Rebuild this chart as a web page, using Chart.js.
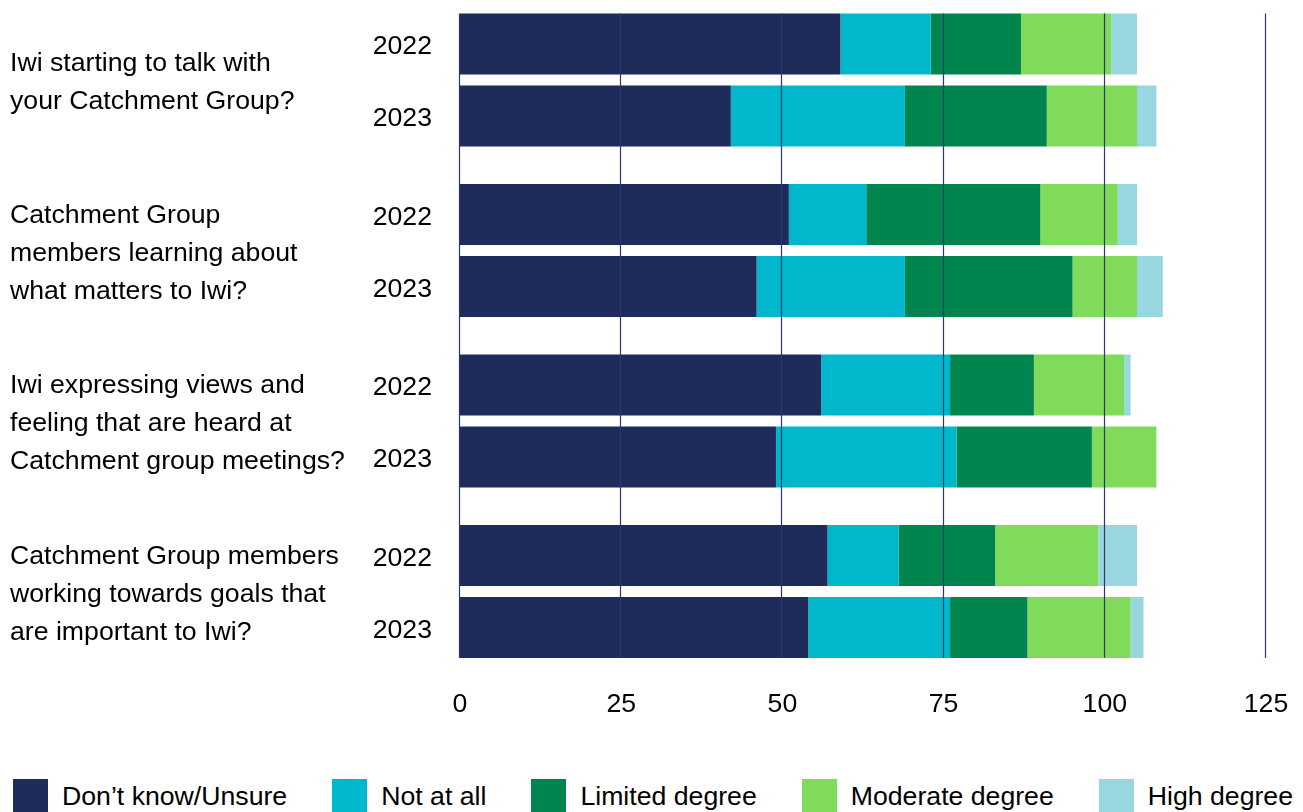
<!DOCTYPE html>
<html>
<head>
<meta charset="utf-8">
<title>Iwi engagement with Catchment Groups</title>
<script src="https://cdn.jsdelivr.net/npm/chart.js@4.4.1/dist/chart.umd.min.js"></script>
<style>
    html, body {
        margin: 0;
        padding: 0;
        background: #ffffff;
        overflow: hidden;
    }
    .chart-wrap {
        position: relative;
        width: 1303px;
        height: 812px;
        overflow: hidden;
    }
    #engagementChart {
        position: absolute;
        left: 0;
        top: -20px;
    }
    .legend {
        position: absolute;
        left: 13px;
        top: 779px;
        display: flex;
        align-items: center;
        gap: 45px;
        font-family: "Liberation Sans", Arial, sans-serif;
        font-size: 26.67px;
        color: #000000;
        white-space: nowrap;
    }
    .legend-item {
        display: flex;
        align-items: center;
    }
    .legend-box {
        width: 35px;
        height: 35px;
        margin-right: 14px;
    }
</style>
</head>
<body>
<div class="chart-wrap">
    <canvas id="engagementChart" width="1303" height="780"></canvas>
    <div class="legend" id="chartLegend"></div>
</div>

<script>
// Survey questions (y axis), one group per question
const questions = [
    ['Iwi starting to talk with', 'your Catchment Group?'],
    ['Catchment Group', 'members learning about', 'what matters to Iwi?'],
    ['Iwi expressing views and', 'feeling that are heard at', 'Catchment group meetings?'],
    ['Catchment Group members', 'working towards goals that', 'are important to Iwi?']
];

const years = ['2022', '2023'];

const responseLevels = ['Don\u2019t know/Unsure', 'Not at all', 'Limited degree', 'Moderate degree', 'High degree'];
const levelColors = ['#1f2b5b', '#00b7cb', '#00854f', '#80db5a', '#98d6e0'];

// Responses per question, 2022
const dontKnow2022 = [59, 51, 56, 57];
const notAtAll2022 = [14, 12, 20, 11];
const limited2022 = [14, 27, 13, 15];
const moderate2022 = [14, 12, 14, 16];
const high2022 = [4, 3, 1, 6];

// Responses per question, 2023
const dontKnow2023 = [42, 46, 49, 54];
const notAtAll2023 = [27, 23, 28, 22];
const limited2023 = [22, 26, 21, 12];
const moderate2023 = [14, 10, 10, 16];
const high2023 = [3, 4, 0, 2];

const xTicks = [0, 25, 50, 75, 100, 125];

const FONT = '"Liberation Sans", Arial, sans-serif';
const FONT_SIZE = 26.67;
const GRID_COLOR = '#2c3868';

document.addEventListener('DOMContentLoaded', function() {
    const chart = createEngagementChart();
    buildLegend(chart);
});

/**
 * Vertical grid lines over the bars, only as tall as the bar block
 */
const barGridPlugin = {
    id: 'barGrid',
    afterDatasetsDraw(chart) {
        const ctx = chart.ctx;
        const xScale = chart.scales.x;
        let top = Infinity;
        let bottom = -Infinity;

        chart.data.datasets.forEach((ds, i) => {
            chart.getDatasetMeta(i).data.forEach(bar => {
                top = Math.min(top, bar.y - bar.height / 2);
                bottom = Math.max(bottom, bar.y + bar.height / 2);
            });
        });

        ctx.save();
        ctx.strokeStyle = GRID_COLOR;
        ctx.lineWidth = 1.2;
        xScale.ticks.forEach(tick => {
            const x = Math.round(xScale.getPixelForValue(tick.value)) - 0.5;
            ctx.beginPath();
            ctx.moveTo(x, top);
            ctx.lineTo(x, bottom);
            ctx.stroke();
        });
        ctx.restore();
    }
};

/**
 * Year label beside each bar
 */
const yearLabelPlugin = {
    id: 'yearLabels',
    afterDatasetsDraw(chart) {
        const ctx = chart.ctx;
        const left = chart.chartArea.left - 28;

        ctx.save();
        ctx.font = FONT_SIZE + 'px ' + FONT;
        ctx.fillStyle = '#000000';
        ctx.textAlign = 'right';
        ctx.textBaseline = 'middle';

        years.forEach((year, y) => {
            // first dataset of each year's stack gives the bar rows
            const meta = chart.getDatasetMeta(y * responseLevels.length);
            meta.data.forEach(bar => {
                ctx.fillText(year, left, bar.y + 3);
            });
        });
        ctx.restore();
    }
};

/**
 * Build one dataset per response level and year
 */
function buildDatasets() {
    const byYear = {
        '2022': [dontKnow2022, notAtAll2022, limited2022, moderate2022, high2022],
        '2023': [dontKnow2023, notAtAll2023, limited2023, moderate2023, high2023]
    };

    const datasets = [];
    years.forEach(year => {
        byYear[year].forEach((values, i) => {
            datasets.push({
                label: responseLevels[i],
                data: values,
                stack: year,
                backgroundColor: levelColors[i],
                borderWidth: 0,
                categoryPercentage: 0.8446,
                barPercentage: 0.847
            });
        });
    });
    return datasets;
}

// Drop the edge padding the axes ask for, so the plot area keeps the layout padding
function noEdgePadding(scale) {
    scale.paddingTop = 0;
    scale.paddingBottom = 0;
    scale.paddingLeft = 0;
    scale.paddingRight = 0;
}

/**
 * Create the stacked horizontal bar chart
 */
function createEngagementChart() {
    const ctx = document.getElementById('engagementChart');

    return new Chart(ctx, {
        type: 'bar',
        data: {
            labels: questions,
            datasets: buildDatasets()
        },
        options: {
            indexAxis: 'y',
            responsive: false,
            animation: false,
            devicePixelRatio: 1,
            layout: {
                padding: {
                    left: 10,
                    right: 37,
                    top: 14.75,
                    bottom: 8.25
                }
            },
            scales: {
                x: {
                    stacked: true,
                    min: 0,
                    max: 125,
                    afterBuildTicks: function(scale) {
                        scale.ticks = xTicks.map(v => ({ value: v }));
                    },
                    afterFit: function(scale) {
                        scale.height = 75;
                        noEdgePadding(scale);
                    },
                    grid: {
                        display: false,
                        drawTicks: false
                    },
                    border: {
                        display: false
                    },
                    ticks: {
                        color: '#000000',
                        padding: 12,
                        maxRotation: 0,
                        font: {
                            family: FONT,
                            size: FONT_SIZE
                        }
                    }
                },
                y: {
                    stacked: true,
                    afterFit: function(scale) {
                        scale.width = 450;
                        noEdgePadding(scale);
                    },
                    grid: {
                        display: false,
                        drawTicks: false
                    },
                    border: {
                        display: false
                    },
                    ticks: {
                        color: '#000000',
                        crossAlign: 'far',
                        padding: 0,
                        labelOffset: 3,
                        font: {
                            family: FONT,
                            size: FONT_SIZE,
                            lineHeight: 1.42
                        }
                    }
                }
            },
            plugins: {
                legend: {
                    display: false
                },
                tooltip: {
                    enabled: false
                }
            }
        },
        plugins: [barGridPlugin, yearLabelPlugin]
    });
}

/**
 * Legend under the chart, one entry per response level
 */
function buildLegend(chart) {
    const container = document.getElementById('chartLegend');
    const datasets = chart.data.datasets.slice(0, responseLevels.length);

    datasets.forEach(ds => {
        const item = document.createElement('div');
        item.className = 'legend-item';

        const box = document.createElement('span');
        box.className = 'legend-box';
        box.style.background = ds.backgroundColor;

        const text = document.createElement('span');
        text.textContent = ds.label;

        item.appendChild(box);
        item.appendChild(text);
        container.appendChild(item);
    });
}
</script>
</body>
</html>
